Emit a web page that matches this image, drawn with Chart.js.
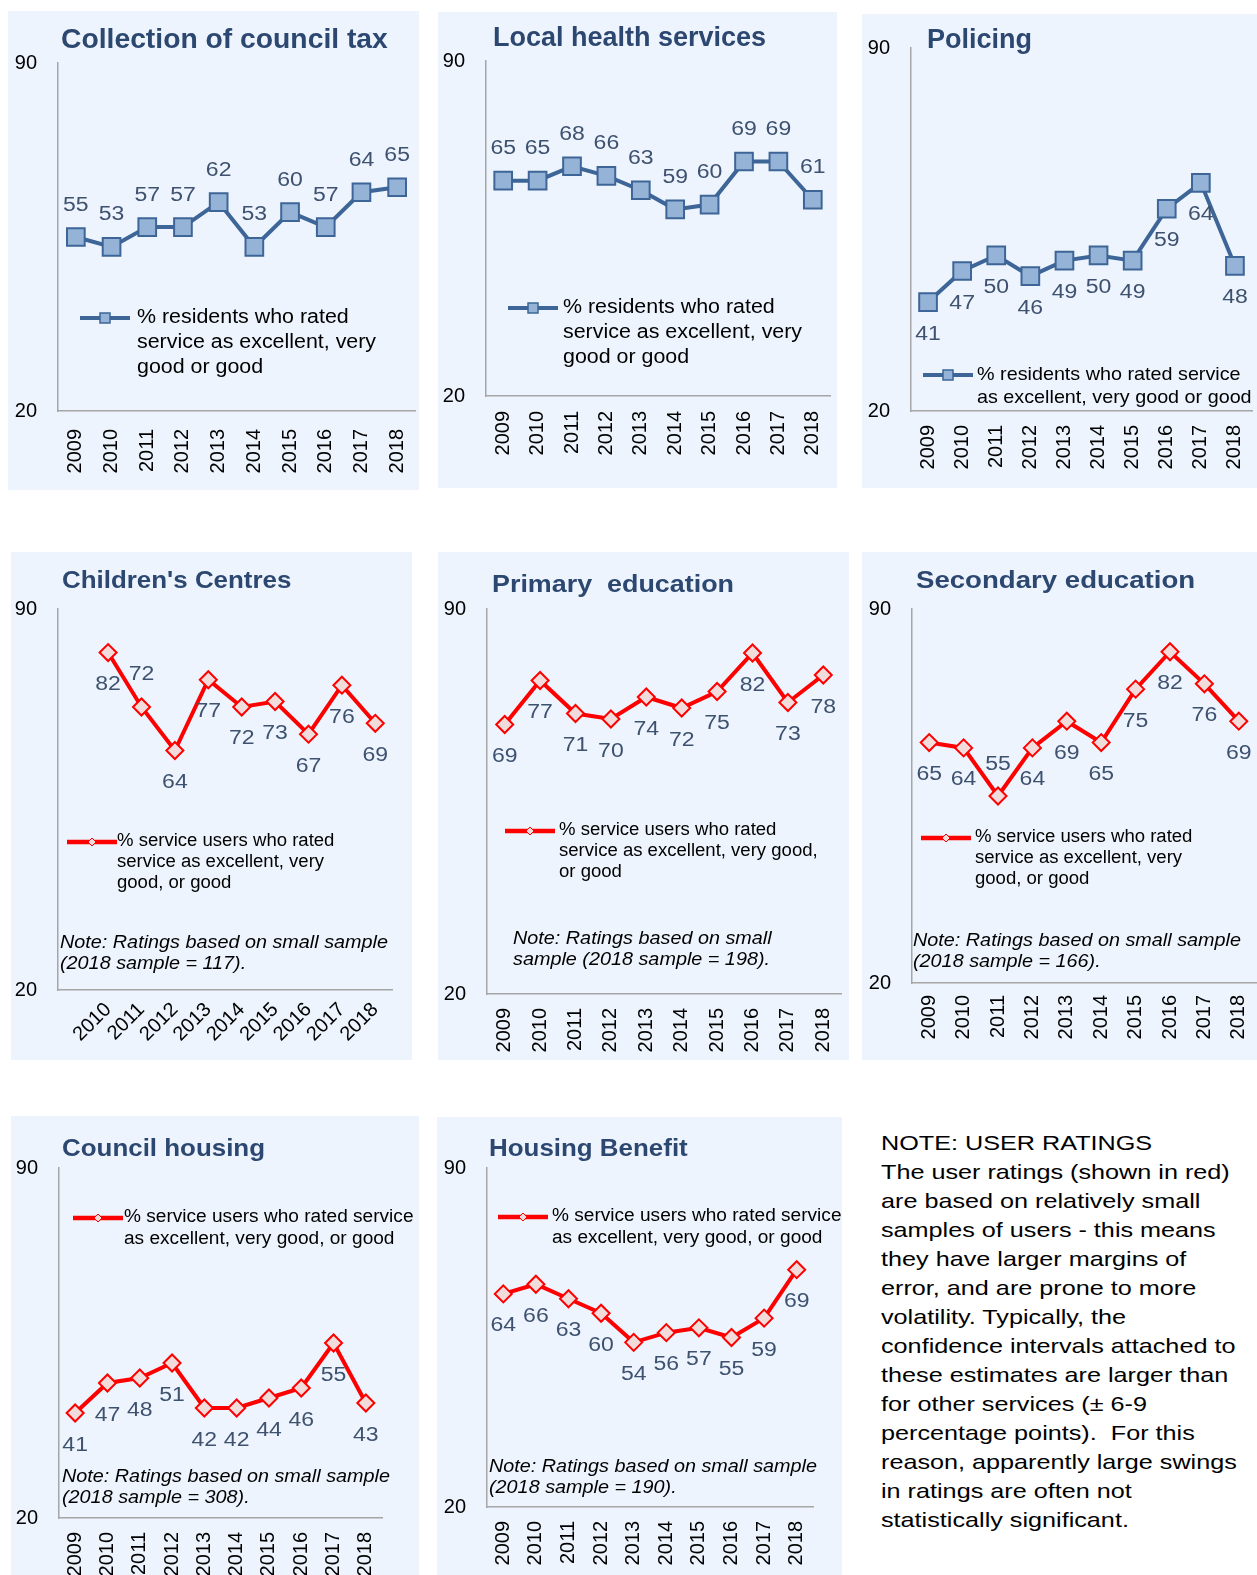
<!DOCTYPE html>
<html>
<head>
<meta charset="utf-8">
<title>Resident and service user ratings</title>
<script src="https://cdn.jsdelivr.net/npm/chart.js@4.4.0/dist/chart.umd.min.js"></script>
<style>
  body { margin: 0; width: 1257px; height: 1575px; position: relative; overflow: hidden; background: #fff;
         font-family: "Liberation Sans", Arial, sans-serif; }
  .panel { position: absolute; background: #EDF4FD; }
  .panel canvas { position: absolute; left: 0; top: 0; }
  .txt { position: absolute; white-space: nowrap; transform-origin: 0 0; color: #000; }
  .title { font-weight: bold; color: #2C4770; line-height: 1; }
  .note { font-style: italic; }
  svg.sym { position: absolute; }
</style>
</head>
<body>
<script>
// years shown on every x axis
const years = ['2009', '2010', '2011', '2012', '2013', '2014', '2015', '2016', '2017', '2018'];

// resident ratings (blue)
const councilTax = [55, 53, 57, 57, 62, 53, 60, 57, 64, 65];
const healthServices = [65, 65, 68, 66, 63, 59, 60, 69, 69, 61];
const policing = [41, 47, 50, 46, 49, 50, 49, 59, 64, 48];

// service user ratings (red)
const childrensCentres = [null, 82, 72, 64, 77, 72, 73, 67, 76, 69];
const primaryEducation = [69, 77, 71, 70, 74, 72, 75, 82, 73, 78];
const secondaryEducation = [65, 64, 55, 64, 69, 65, 75, 82, 76, 69];
const councilHousing = [41, 47, 48, 51, 42, 42, 44, 46, 55, 43];
const housingBenefit = [64, 66, 63, 60, 54, 56, 57, 55, 59, 69];

const yMin = 20, yMax = 90;

const BLUE = '#3D6597', BLUE_FILL = '#95B3D7';
const RED = '#FF0000', RED_FILL = '#F2DCDB';
const FONT = '"Liberation Sans", Arial, sans-serif';
const EXTRA = 30; // canvas runs past the panel on the right so the axis can reach the edge

// value labels above ('a') or below ('b') each point
const valueLabels = {
  id: 'valueLabels',
  afterDatasetsDraw(chart, args, opts) {
    const ctx = chart.ctx;
    const meta = chart.getDatasetMeta(0);
    const vals = chart.data.datasets[0].data;
    ctx.save();
    ctx.font = '20px ' + FONT;
    ctx.fillStyle = '#3E5270';
    ctx.textAlign = 'center';
    ctx.textBaseline = 'middle';
    meta.data.forEach((pt, i) => {
      if (vals[i] == null) return;
      const dy = opts.pos[i] === 'a' ? -32 : 32;
      ctx.save();
      ctx.translate(pt.x, pt.y + dy);
      ctx.scale(1.15, 1);
      ctx.fillText(String(vals[i]), 0, 0);
      ctx.restore();
    });
    ctx.restore();
  }
};

function makeChart(cfg) {
  const [px, py, pw, ph] = cfg.box;
  const [L, T, R, B] = cfg.area;
  const panel = document.createElement('div');
  panel.className = 'panel';
  Object.assign(panel.style, { left: px + 'px', top: py + 'px', width: pw + 'px', height: ph + 'px' });
  const canvas = document.createElement('canvas');
  canvas.width = pw + EXTRA;
  canvas.height = ph;
  panel.appendChild(canvas);
  document.body.appendChild(panel);

  const red = cfg.kind === 'red';
  new Chart(canvas, {
    type: 'line',
    data: {
      labels: years,
      datasets: [{
        data: cfg.values,
        borderColor: red ? RED : BLUE,
        borderWidth: 4,
        pointStyle: red ? 'rectRot' : 'rect',
        pointRadius: red ? 8.5 : 12.5,
        pointBackgroundColor: red ? RED_FILL : BLUE_FILL,
        pointBorderColor: red ? RED : BLUE,
        pointBorderWidth: 2,
        tension: 0
      }]
    },
    options: {
      responsive: false,
      animation: false,
      events: [],
      layout: { padding: { left: 0, top: T - py, right: px + pw + EXTRA - R, bottom: 0 } },
      plugins: {
        legend: { display: false },
        tooltip: { enabled: false },
        valueLabels: { pos: cfg.pos }
      },
      scales: {
        x: {
          offset: true,
          grid: { display: false, drawTicks: false },
          border: { color: '#A6A6A6', width: 1.5 },
          ticks: {
            autoSkip: false,
            minRotation: cfg.rot || 90,
            maxRotation: cfg.rot || 90,
            padding: cfg.xPad || 14,
            color: '#000',
            font: { size: 20, family: FONT },
            callback: (v, i) => cfg.values[i] == null ? '' : years[i]
          },
          afterFit: s => { s.height = py + ph - B; s.paddingLeft = 0; s.paddingRight = 0; }
        },
        y: {
          min: yMin,
          max: yMax,
          grid: { display: false, drawTicks: false },
          border: { color: '#A6A6A6', width: 1.5 },
          ticks: { stepSize: yMax - yMin, padding: 21, color: '#000', font: { size: 20, family: FONT } },
          afterFit: s => { s.width = L - px; s.paddingTop = 0; s.paddingBottom = 0; }
        }
      }
    },
    plugins: [valueLabels]
  });
}

function addText(cls, x, top, html, fs, lh, k) {
  const d = document.createElement('div');
  d.className = 'txt ' + cls;
  Object.assign(d.style, { left: x + 'px', top: top + 'px', fontSize: fs + 'px', transform: 'scaleX(' + k + ')' });
  if (lh) d.style.lineHeight = lh + 'px';
  d.innerHTML = html;
  document.body.appendChild(d);
}

function addSymbol(kind, x, y) {
  const red = kind === 'red';
  const svg = red
    ? `<svg class="sym" width="50" height="14" style="left:${x}px;top:${y - 7}px">
         <line x1="0" y1="7" x2="50" y2="7" stroke="${RED}" stroke-width="4.5"/>
         <polygon points="25,3 29,7 25,11 21,7" fill="${RED_FILL}" stroke="${RED}" stroke-width="1"/></svg>`
    : `<svg class="sym" width="50" height="14" style="left:${x}px;top:${y - 7}px">
         <line x1="0" y1="7" x2="50" y2="7" stroke="${BLUE}" stroke-width="4"/>
         <rect x="20" y="2" width="10" height="10" fill="${BLUE_FILL}" stroke="${BLUE}" stroke-width="1.5"/></svg>`;
  document.body.insertAdjacentHTML('beforeend', svg);
}

const all = (p, n) => Array(n).fill(p);

makeChart({ box: [8, 11, 411, 479], area: [58, 63, 415, 411], values: councilTax, kind: 'blue', pos: all('a', 10), xPad: 18 });
makeChart({ box: [438, 12, 399, 476], area: [486, 61, 830, 396], values: healthServices, kind: 'blue', pos: all('a', 10), xPad: 15 });
makeChart({ box: [862, 14, 395, 474], area: [911, 48, 1252, 411], values: policing, kind: 'blue', pos: all('b', 10) });
makeChart({ box: [11, 552, 401, 508], area: [58, 609, 392, 990], values: childrensCentres, kind: 'red',
  pos: ['b', 'b', 'a', 'b', 'b', 'b', 'b', 'b', 'b', 'b'], rot: 45, xPad: 8 });
makeChart({ box: [438, 552, 411, 508], area: [487, 609, 841, 994], values: primaryEducation, kind: 'red', pos: all('b', 10) });
makeChart({ box: [862, 552, 395, 508], area: [912, 609, 1256, 983], values: secondaryEducation, kind: 'red',
  pos: ['b', 'b', 'a', 'b', 'b', 'b', 'b', 'b', 'b', 'b'], xPad: 12 });
makeChart({ box: [11, 1116, 408, 459], area: [59, 1168, 382, 1518], values: councilHousing, kind: 'red', pos: all('b', 10) });
makeChart({ box: [437, 1117, 405, 458], area: [487, 1168, 813, 1507], values: housingBenefit, kind: 'red', pos: all('b', 10) });

// titles
addText('title', 61, 25, 'Collection of council tax', 28, 0, 1.01);
addText('title', 493, 24, 'Local health services', 27, 0, 1);
addText('title', 927, 26, 'Policing', 27, 0, 1);
addText('title', 62, 568, "Children's Centres", 24, 0, 1.08);
addText('title', 492, 572, 'Primary&nbsp; education', 24, 0, 1.12);
addText('title', 916, 568, 'Secondary education', 24, 0, 1.15);
addText('title', 62, 1136, 'Council housing', 24, 0, 1.08);
addText('title', 489, 1136, 'Housing Benefit', 24, 0, 1.08);

// legends
const blueLeg = '% residents who rated<br>service as excellent, very<br>good or good';
addSymbol('blue', 80, 318); addText('', 137, 304, blueLeg, 20, 25, 1.07);
addSymbol('blue', 508, 308); addText('', 563, 294, blueLeg, 20, 25, 1.07);
addSymbol('blue', 923, 375); addText('', 977, 362, '% residents who rated service<br>as excellent, very good or good', 19, 23, 1.04);

addSymbol('red', 67, 842); addText('', 117, 830, '% service users who rated<br>service as excellent, very<br>good, or good', 18, 21, 1.03);
addSymbol('red', 505, 831); addText('', 559, 819, '% service users who rated<br>service as excellent, very good,<br>or good', 18, 21, 1.03);
addSymbol('red', 921, 838); addText('', 975, 826, '% service users who rated<br>service as excellent, very<br>good, or good', 18, 21, 1.03);
addSymbol('red', 73, 1218); addText('', 124, 1205, '% service users who rated service<br>as excellent, very good, or good', 18, 22, 1.06);
addSymbol('red', 498, 1217); addText('', 552, 1204, '% service users who rated service<br>as excellent, very good, or good', 18, 22, 1.06);

// small-sample notes
addText('note', 60, 932, 'Note: Ratings based on small sample<br>(2018 sample = 117).', 18, 21, 1.1);
addText('note', 513, 928, 'Note: Ratings based on small<br>sample (2018 sample = 198).', 18, 21, 1.1);
addText('note', 913, 930, 'Note: Ratings based on small sample<br>(2018 sample = 166).', 18, 21, 1.1);
addText('note', 62, 1466, 'Note: Ratings based on small sample<br>(2018 sample = 308).', 18, 21, 1.1);
addText('note', 489, 1456, 'Note: Ratings based on small sample<br>(2018 sample = 190).', 18, 21, 1.1);

addText('', 881, 1128,
  'NOTE: USER RATINGS<br>The user ratings (shown in red)<br>are based on relatively small<br>' +
  'samples of users - this means<br>they have larger margins of<br>error, and are prone to more<br>' +
  'volatility. Typically, the<br>confidence intervals attached to<br>these estimates are larger than<br>' +
  'for other services (± 6-9<br>percentage points).&nbsp; For this<br>reason, apparently large swings<br>' +
  'in ratings are often not<br>statistically significant.', 21, 29, 1.2);
</script>
</body>
</html>
